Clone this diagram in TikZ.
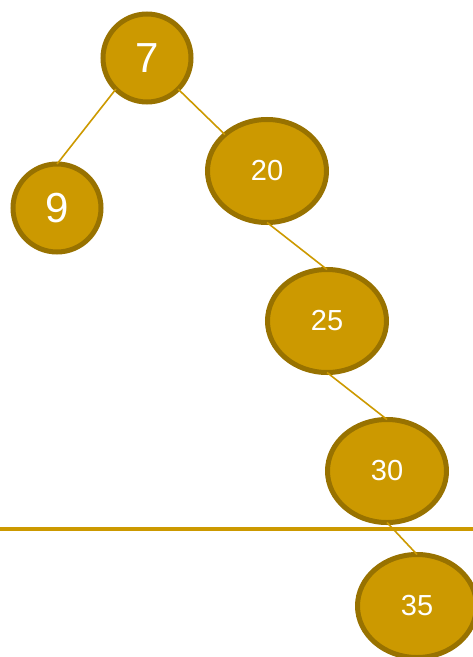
\documentclass[tikz,border=0pt]{standalone}
\usepackage{fontspec}
\setmainfont{Liberation Sans}
\usetikzlibrary{shapes.geometric}
\definecolor{gold}{HTML}{CC9900}
\definecolor{golddark}{HTML}{987200}
\tikzset{
  treenode/.style={ellipse, draw=golddark, fill=gold, line width=5bp,
    inner sep=0pt, outer sep=0pt, text=white},
  roundnode/.style={treenode, minimum width=88bp, minimum height=88bp,
    font=\fontsize{42bp}{42bp}\selectfont},
  ovalnode/.style={treenode, minimum width=119bp, minimum height=103bp,
    font=\fontsize{29bp}{29bp}\selectfont},
  edge/.style={draw=gold, line width=1.6bp}
}
\begin{document}
\begin{tikzpicture}[x=1bp,y=-1bp]
  \useasboundingbox (0,0) rectangle (473,657);
  \clip (0,0) rectangle (473,657);
  % nodes
  \node[roundnode] (n7)  at (147,58)  {7};
  \node[roundnode] (n9)  at (57,208)  {9};
  \node[ovalnode]  (n20) at (267,171) {20};
  \node[ovalnode]  (n25) at (327,321) {25};
  \node[ovalnode]  (n30) at (387,471) {30};
  \node[ovalnode]  (n35) at (417,606) {35};
  % edges
  \draw[edge] (n7.south west) -- (n9.north);
  \draw[edge] (n7.south east) -- (n20.north west);
  \draw[edge] (n20.south) -- (n25.north);
  \draw[edge] (n25.south) -- (n30.north);
  \draw[edge] (n30.south) -- (n35.north);
  % divider
  \coordinate (lineL) at (0,529);
  \coordinate (lineR) at (473,529);
  \draw[draw=gold, line width=4bp] (lineL) -- (lineR);
\end{tikzpicture}
\end{document}
